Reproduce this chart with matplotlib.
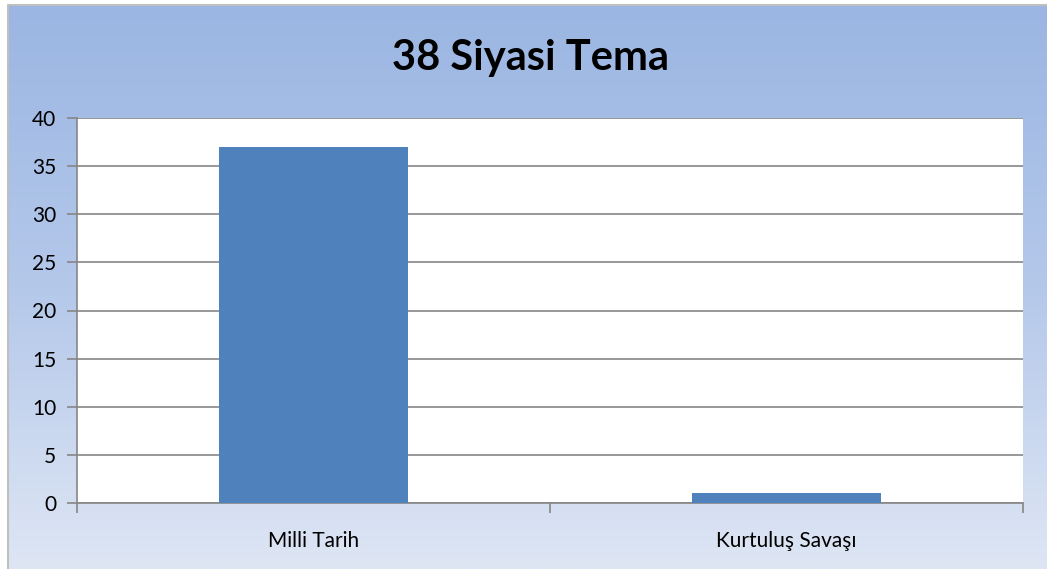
import numpy as np
import matplotlib.pyplot as plt
import matplotlib.colors as mcolors

# -----------------------------
# Data
# -----------------------------

categories = ["Milli Tarih", "Kurtuluş Savaşı"]
values = [37, 1]
y_ticks = [0, 5, 10, 15, 20, 25, 30, 35, 40]

TITLE = "38 Siyasi Tema"

plt.rcParams["font.family"] = ["Lato", "DejaVu Sans"]

fig = plt.figure(figsize=(10.47, 5.69), dpi=100)

# -----------------------------
# Gradient background
# -----------------------------

bg = fig.add_axes([0, 0, 1, 1], zorder=-10)
bg.set_xlim(0, 1)
bg.set_ylim(0, 1)
bg.axis("off")

cmap = mcolors.LinearSegmentedColormap.from_list(
    "bg", ["#dee6f4", "#b4c8ea", "#9bb6e3"]
)
grad = np.linspace(0, 1, 256).reshape(-1, 1)
x0 = 8 / 1047
y1 = 1 - 5 / 569
bg.imshow(grad, extent=[x0, 1, 0, y1], origin="lower",
          cmap=cmap, aspect="auto")
bg.plot([x0, x0, 1], [0, y1, y1], color="#bfbfbf", lw=1.5)

# -----------------------------
# Bar chart
# -----------------------------

ax = fig.add_axes([77 / 1047, 1 - 503 / 569,
                   (1023 - 77) / 1047, (503 - 118) / 569])
ax.set_facecolor("white")

x = np.arange(len(categories))
ax.bar(x, values, width=0.4, color="#4f81bd", zorder=3)

ax.set_xlim(-0.5, len(categories) - 0.5)
ax.set_ylim(0, 40)
ax.set_yticks(y_ticks)
ax.yaxis.grid(True, color="#868686", lw=1.2)
ax.set_axisbelow(True)

# category labels sit between boundary ticks
ax.set_xticks(np.arange(-0.5, len(categories), 1.0))
ax.set_xticklabels([])
ax.set_xticks(x, minor=True)
ax.set_xticklabels(categories, minor=True)
ax.tick_params(axis="x", which="minor", length=0, pad=20, labelsize=15)
ax.tick_params(axis="x", which="major", length=7, color="#868686", width=1.2)
ax.tick_params(axis="y", length=7, color="#868686", width=1.2,
               labelsize=15, pad=8)

for side in ["top", "right"]:
    ax.spines[side].set_visible(False)
for side in ["left", "bottom"]:
    ax.spines[side].set_color("#868686")
    ax.spines[side].set_linewidth(1.2)

fig.text(530 / 1047, 1 - 58 / 569, TITLE, ha="center", va="center",
         fontsize=30, fontweight="bold")

fig.savefig("out.png", dpi=100)
